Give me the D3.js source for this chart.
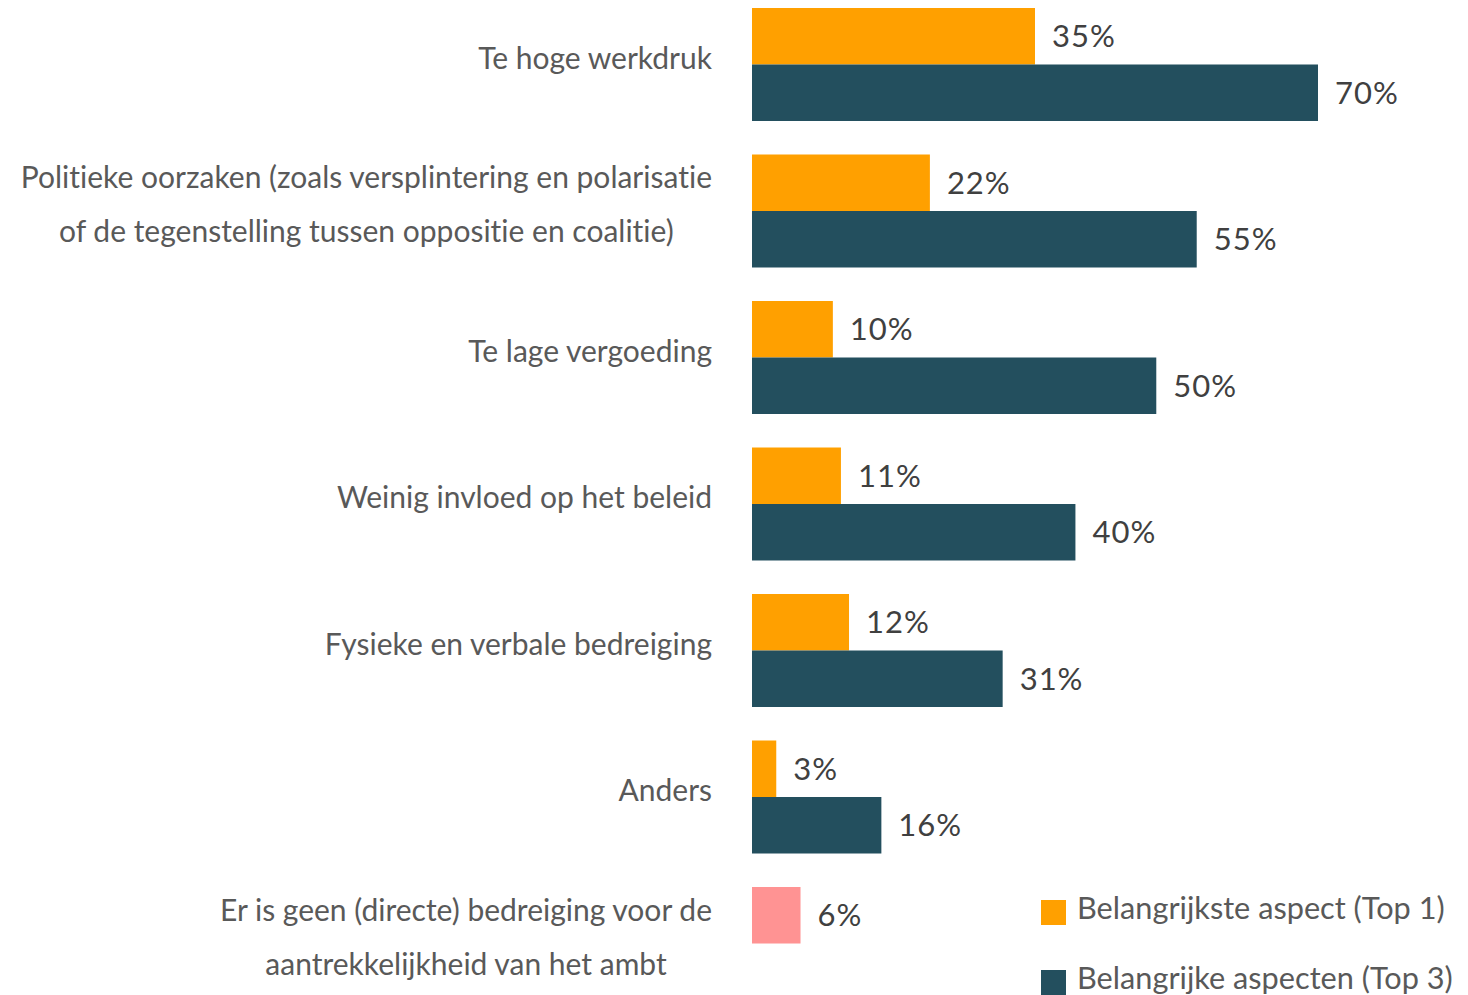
<!DOCTYPE html>
<html>
<head>
<meta charset="utf-8">
<script src="https://cdn.jsdelivr.net/npm/d3@7"></script>
<style>
  body { margin: 0; background: #fff; }
  text { font-family: Lato, "Open Sans", sans-serif; font-variant-ligatures: none; }
</style>
</head>
<body>
<div id="chart"></div>
<script>
// Categories (label lines) and values in %
const categories = [
    ["Te hoge werkdruk"],
    ["Politieke oorzaken (zoals versplintering en polarisatie", "of de tegenstelling tussen oppositie en coalitie)"],
    ["Te lage vergoeding"],
    ["Weinig invloed op het beleid"],
    ["Fysieke en verbale bedreiging"],
    ["Anders"],
    ["Er is geen (directe) bedreiging voor de", "aantrekkelijkheid van het ambt"]
];
const top1 = [35, 22, 10, 11, 12, 3, 6];
const top3 = [70, 55, 50, 40, 31, 16, null];
const seriesNames = ["Belangrijkste aspect (Top 1)", "Belangrijke aspecten (Top 3)"];

const colors = { top1: "#FFA000", top3: "#234F5E", none: "#FF9393" };

const width = 1468, height = 995;

const svg = d3.select("#chart")
    .append("svg")
    .attr("width", width)
    .attr("height", height);

const x = d3.scaleLinear()
    .domain([0, 70])
    .range([752, 1318]);

const y = d3.scaleBand()
    .domain(d3.range(categories.length))
    .range([8, 1000])
    .paddingInner(0.2287)
    .paddingOuter(0);

const ySub = d3.scaleBand()
    .domain(["top1", "top3"])
    .range([0, y.bandwidth()]);

const rows = svg.selectAll(".row")
    .data(categories.map((c, i) => ({ lines: c, i, top1: top1[i], top3: top3[i] })))
    .enter()
    .append("g")
    .attr("class", "row")
    .attr("transform", d => `translate(0,${y(d.i)})`);

// category labels
rows.each(function (d) {
    const g = d3.select(this);
    const lineH = 54;
    const center = y.bandwidth() / 2 - 6;
    const n = d.lines.length;
    const t = g.append("text")
        .attr("text-anchor", n > 1 ? "middle" : "end")
        .attr("font-size", 30)
        .attr("fill", "#595959");
    d.lines.forEach((line, k) => {
        t.append("tspan")
            .attr("x", 712)
            .attr("y", center + (k - (n - 1) / 2) * lineH)
            .attr("dy", "0.35em")
            .text(line);
    });
    if (n > 1) {
        // center lines on the longest line, right edge at 712
        const w = d3.max(t.selectAll("tspan").nodes(), s => s.getComputedTextLength());
        t.selectAll("tspan").attr("x", 712 - w / 2);
    }
});

// bars
rows.each(function (d) {
    const g = d3.select(this);
    const bars = [];
    if (d.top3 == null) {
        bars.push({ key: "top1", v: d.top1, color: colors.none });
    } else {
        bars.push({ key: "top1", v: d.top1, color: colors.top1 });
        bars.push({ key: "top3", v: d.top3, color: colors.top3 });
    }
    g.selectAll("rect")
        .data(bars)
        .enter()
        .append("rect")
        .attr("x", x(0))
        .attr("y", b => ySub(b.key))
        .attr("width", b => x(b.v) - x(0))
        .attr("height", ySub.bandwidth())
        .attr("fill", b => b.color);
    g.selectAll(".val")
        .data(bars)
        .enter()
        .append("text")
        .attr("class", "val")
        .attr("x", b => x(b.v) + 17)
        .attr("y", b => ySub(b.key) + ySub.bandwidth() / 2)
        .attr("dy", "0.35em")
        .attr("font-size", 31)
        .attr("letter-spacing", 1)
        .attr("fill", "#404040")
        .text(b => b.v + "%");
});

// legend
const legend = svg.append("g")
    .attr("transform", "translate(1041,900)");
seriesNames.forEach((name, i) => {
    const lg = legend.append("g").attr("transform", `translate(0,${i * 70})`);
    lg.append("rect")
        .attr("width", 25)
        .attr("height", 25)
        .attr("fill", i === 0 ? colors.top1 : colors.top3);
    lg.append("text")
        .attr("x", 36)
        .attr("y", 8)
        .attr("dy", "0.35em")
        .attr("font-size", 30.7)
        .attr("fill", "#595959")
        .text(name);
});
</script>
</body>
</html>
